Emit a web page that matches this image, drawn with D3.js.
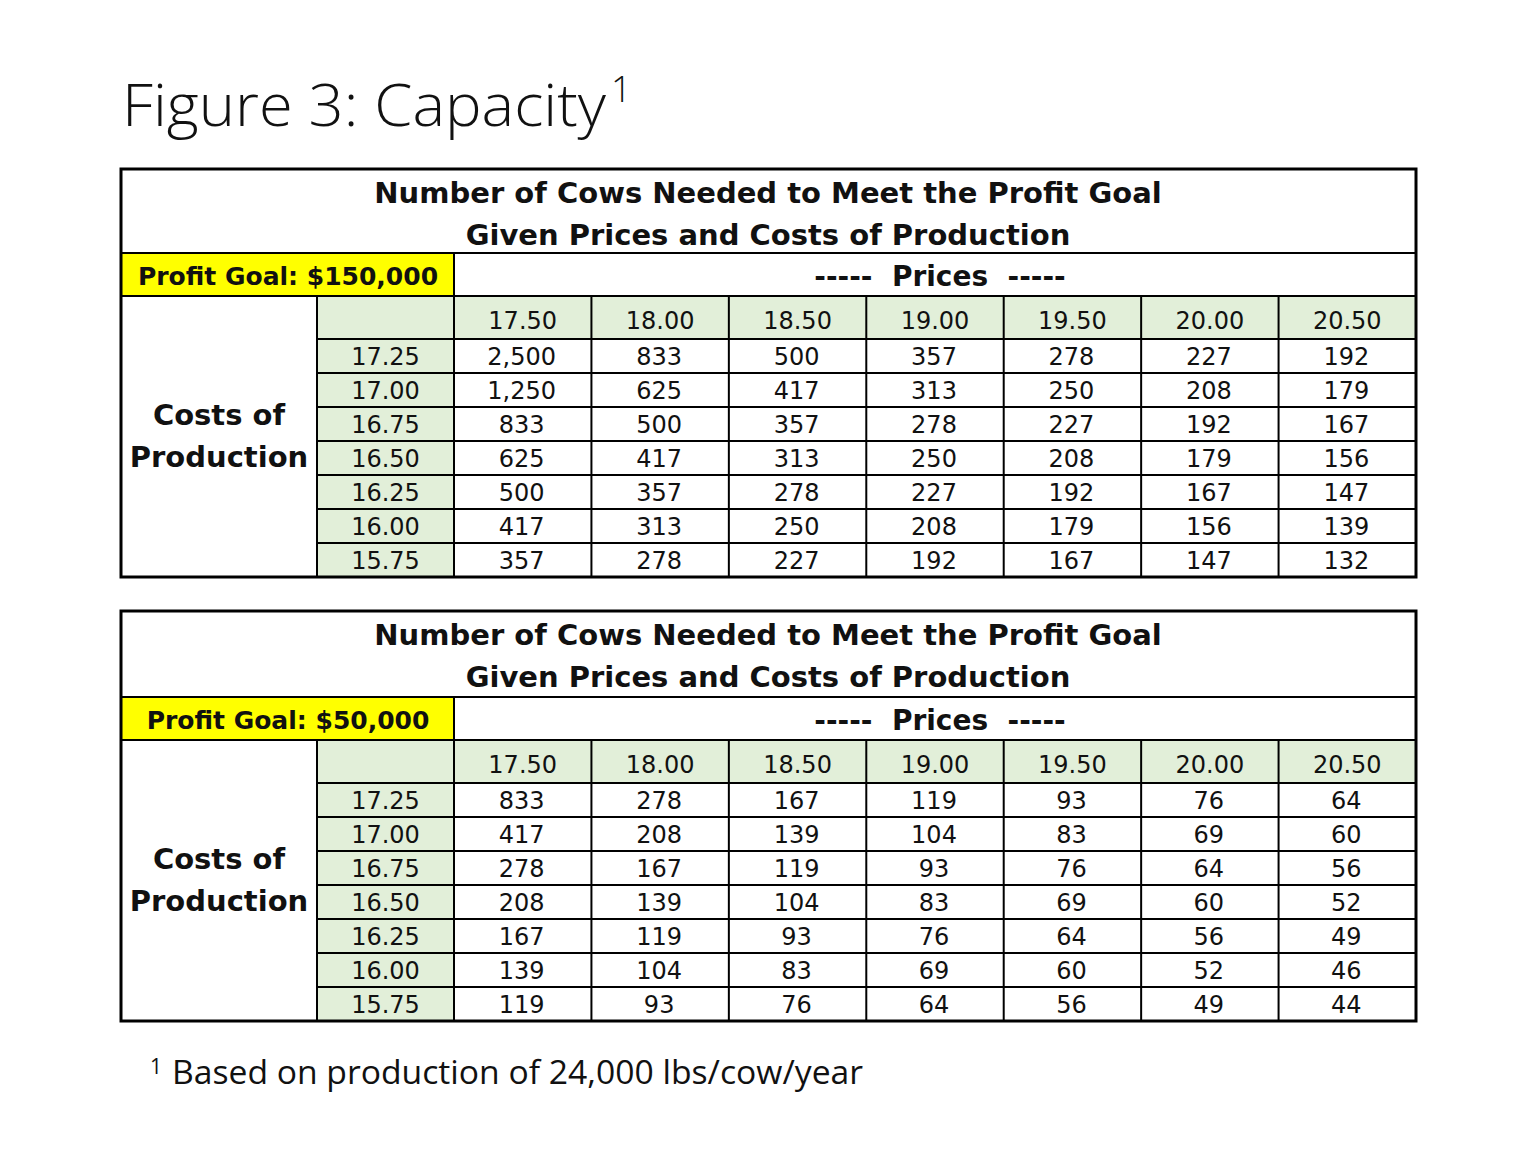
<!DOCTYPE html>
<html><head><meta charset="utf-8">
<script src="https://cdn.jsdelivr.net/npm/d3@7"></script>
<style>body{margin:0;background:#fff}</style>
</head><body>
<script>
const prices = ["17.50","18.00","18.50","19.00","19.50","20.00","20.50"];
const costs = ["17.25","17.00","16.75","16.50","16.25","16.00","15.75"];
const goals = ["Profit Goal: $150,000","Profit Goal: $50,000"];
const cows150k = [
  [2500,833,500,357,278,227,192],
  [1250,625,417,313,250,208,179],
  [833,500,357,278,227,192,167],
  [625,417,313,250,208,179,156],
  [500,357,278,227,192,167,147],
  [417,313,250,208,179,156,139],
  [357,278,227,192,167,147,132]
];
const cows50k = [
  [833,278,167,119,93,76,64],
  [417,208,139,104,83,69,60],
  [278,167,119,93,76,64,56],
  [208,139,104,83,69,60,52],
  [167,119,93,76,64,56,49],
  [139,104,83,69,60,52,46],
  [119,93,76,64,56,49,44]
];
const titleText = "Figure 3: Capacity";
const headLines = ["Number of Cows Needed to Meet the Profit Goal","Given Prices and Costs of Production"];
const footText = "Based on production of 24,000 lbs/cow/year";

const W=1536,H=1152;
const svg=d3.select("body").append("svg").attr("width",W).attr("height",H);
svg.append("rect").attr("width",W).attr("height",H).attr("fill","#fff");

const L=121,R=1416,labelR=317,costR=454;
const x=d3.scaleBand().domain(prices).range([costR,R]);
const fmt=d3.format(",");
const GREEN="#e2efd9",YEL="#ffff00";
const serif="'Open Sans', 'Liberation Sans', sans-serif";
const body="'DejaVu Sans', Verdana, sans-serif";

// Title
svg.append("text").attr("x",122).attr("y",126).attr("font-family",serif).attr("font-weight",300)
  .attr("font-size",58).attr("fill","#111").attr("textLength",484).attr("lengthAdjust","spacingAndGlyphs").text(titleText);
svg.append("text").attr("x",611).attr("y",102).attr("font-family",serif).attr("font-weight",300)
  .attr("font-size",36).attr("fill","#111").text("1");

function drawTable(y0, headH, goal, values){
  const g=svg.append("g");
  const yGoal=y0+headH, yPrice=yGoal+43, yData=yPrice+43, yEnd=yData+7*34;
  const y=d3.scaleBand().domain(costs).range([yData,yEnd]);
  // fills
  g.append("rect").attr("x",L).attr("y",yGoal).attr("width",costR-L).attr("height",43).attr("fill",YEL);
  g.append("rect").attr("x",labelR).attr("y",yPrice).attr("width",R-labelR).attr("height",43).attr("fill",GREEN);
  g.append("rect").attr("x",labelR).attr("y",yData).attr("width",costR-labelR).attr("height",yEnd-yData).attr("fill",GREEN);
  // inner lines
  const ln=(x1,y1,x2,y2,w)=>g.append("line").attr("x1",x1).attr("y1",y1).attr("x2",x2).attr("y2",y2).attr("stroke","#000").attr("stroke-width",w||2);
  ln(L,yGoal,R,yGoal);
  ln(L,yPrice,R,yPrice);
  ln(costR,yGoal,costR,yPrice);
  ln(labelR,yPrice,labelR,yEnd);
  ln(costR,yPrice,costR,yEnd);
  prices.forEach((p,i)=>{ if(i>0) ln(x(p),yPrice,x(p),yEnd); });
  ln(labelR,yData,R,yData);
  costs.forEach((c,i)=>{ if(i>0) ln(labelR,y(c),R,y(c)); });
  // outer border
  g.append("rect").attr("x",L).attr("y",y0).attr("width",R-L).attr("height",yEnd-y0).attr("fill","none").attr("stroke","#000").attr("stroke-width",3);
  // header text
  headLines.forEach((s,i)=>g.append("text").attr("x",768).attr("y",y0+34+i*42).attr("text-anchor","middle")
    .attr("font-family",body).attr("font-weight","bold").attr("font-size",29).attr("fill","#111").text(s));
  g.append("text").attr("x",288).attr("y",yGoal+32).attr("text-anchor","middle").attr("font-family",body)
    .attr("font-weight","bold").attr("font-size",25).attr("fill","#111").text(goal);
  g.append("text").attr("x",940).attr("y",yGoal+33).attr("text-anchor","middle").attr("font-family",body)
    .attr("font-weight","bold").attr("font-size",28).attr("fill","#111").attr("xml:space","preserve").text("-----  Prices  -----");
  g.append("text").attr("x",219).attr("y",yData+86).attr("text-anchor","middle").attr("font-family",body)
    .attr("font-weight","bold").attr("font-size",29).attr("fill","#111").text("Costs of");
  g.append("text").attr("x",219).attr("y",yData+128).attr("text-anchor","middle").attr("font-family",body)
    .attr("font-weight","bold").attr("font-size",29).attr("fill","#111").text("Production");
  // price headers
  g.selectAll(".ph").data(prices).join("text").attr("x",d=>x(d)+x.bandwidth()/2).attr("y",yPrice+33)
    .attr("text-anchor","middle").attr("font-family",body).attr("font-size",24).attr("fill","#111").text(d=>d);
  // cost labels
  g.selectAll(".cl").data(costs).join("text").attr("x",(labelR+costR)/2).attr("y",d=>y(d)+26)
    .attr("text-anchor","middle").attr("font-family",body).attr("font-size",24).attr("fill","#111").text(d=>d);
  // values
  values.forEach((row,ri)=>{
    g.selectAll(null).data(row).join("text").attr("x",(d,ci)=>x(prices[ci])+x.bandwidth()/2-1).attr("y",y(costs[ri])+26)
      .attr("text-anchor","middle").attr("font-family",body).attr("font-size",24).attr("fill","#111").text(d=>fmt(d));
  });
}
drawTable(169,84,goals[0],cows150k);
drawTable(611,86,goals[1],cows50k);

// footnote
svg.append("text").attr("x",150).attr("y",1074).attr("font-family",serif).attr("font-size",21).attr("fill","#111").text("1");
svg.append("text").attr("x",172).attr("y",1084).attr("font-family",serif).attr("font-size",33).attr("fill","#111")
  .attr("textLength",691).attr("lengthAdjust","spacingAndGlyphs").text(footText);
</script>
</body></html>
